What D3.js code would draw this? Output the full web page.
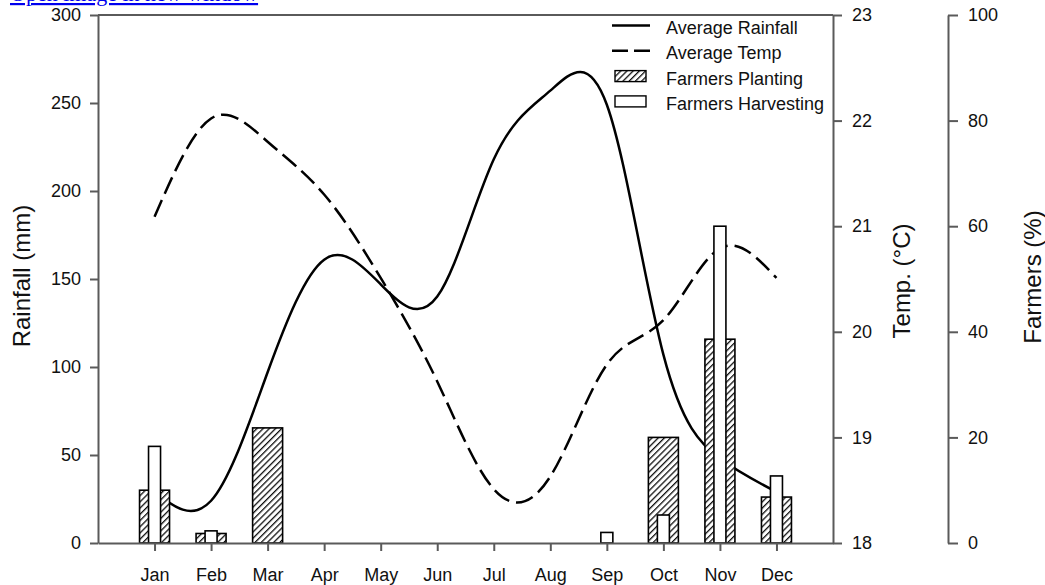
<!DOCTYPE html>
<html><head><meta charset="utf-8">
<script src="https://cdn.jsdelivr.net/npm/d3@7"></script>
<style>
body{margin:0;background:#fff;}
svg{display:block;}
text{font-family:"Liberation Sans",Arial,sans-serif;fill:#111;}
</style>
</head><body>
<svg id="chart" width="1045" height="585"></svg>
<script>
// ---- data ----
const months = ["Jan","Feb","Mar","Apr","May","Jun","Jul","Aug","Sep","Oct","Nov","Dec"];
const rainfall = [29, 24, 97, 161, 147, 140, 218, 257, 249, 107, 48, 29];          // mm
const temperature = [21.09, 22.02, 21.8, 21.3, 20.51, 19.53, 18.51, 18.63, 19.69, 20.11, 20.79, 20.51]; // °C
const planting = [10, 1.8, 21.8, 0, 0, 0, 0, 0, 0, 20, 38.6, 8.7];                  // % farmers
const harvesting = [18.3, 2.3, 0, 0, 0, 0, 0, 0, 2, 5.3, 60, 12.7];                 // % farmers
const rainTicks = [0, 50, 100, 150, 200, 250, 300];
const tempTicks = [18, 19, 20, 21, 22, 23];
const farmerTicks = [0, 20, 40, 60, 80, 100];
const legendLabels = ["Average Rainfall", "Average Temp", "Farmers Planting", "Farmers Harvesting"];
const axisTitles = ["Rainfall (mm)", "Temp. (°C)", "Farmers (%)"];
const linkText = "Open image in new window";

// ---- layout ----
const L = 98, R = 833, T = 15, B = 543, FX = 948;
const svg = d3.select("#chart");
const x = d3.scaleLinear().domain([0, 13]).range([L, R]);
const yRain = d3.scaleLinear().domain([0, 300]).range([B, T]);
const yTemp = d3.scaleLinear().domain([18, 23]).range([B, T]);
const yFarm = d3.scaleLinear().domain([0, 100]).range([B, T]);
const axisColor = "#5a5a5a";

// link text (clipped at top, as in the reference)
svg.append("text").attr("x", 10).attr("y", 1)
  .style("font-family", "'Liberation Serif','Times New Roman',serif")
  .style("font-size", "22px").style("fill", "#0000ee")
  .style("text-decoration", "underline").text(linkText);

// hatch pattern
const defs = svg.append("defs");
const pat = defs.append("pattern").attr("id", "hatch").attr("patternUnits", "userSpaceOnUse")
  .attr("width", 4.4).attr("height", 4.4).attr("patternTransform", "rotate(45)");
pat.append("rect").attr("width", 4.4).attr("height", 4.4).attr("fill", "#fff");
pat.append("line").attr("x1", 0).attr("y1", 0).attr("x2", 0).attr("y2", 4.4)
  .attr("stroke", "#111").attr("stroke-width", 2.6);

// ---- lines ----
const idx = d3.range(12);
const rainLine = d3.line().x(i => x(i + 1)).y(i => yRain(rainfall[i])).curve(d3.curveNatural);
const tempLine = d3.line().x(i => x(i + 1)).y(i => yTemp(temperature[i])).curve(d3.curveNatural);
svg.append("path").attr("d", rainLine(idx)).attr("fill", "none").attr("stroke", "#000").attr("stroke-width", 2.5);
svg.append("path").attr("d", tempLine(idx)).attr("fill", "none").attr("stroke", "#000").attr("stroke-width", 2.5)
  .attr("stroke-dasharray", "18,7");

// ---- bars ----
const PW = 30, HW = 12;
svg.append("g").selectAll("rect").data(idx.filter(i => planting[i] > 0)).join("rect")
  .attr("x", i => x(i + 1) - PW / 2).attr("width", PW)
  .attr("y", i => yFarm(planting[i])).attr("height", i => B - yFarm(planting[i]))
  .attr("fill", "url(#hatch)").attr("stroke", "#000").attr("stroke-width", 1.6);
svg.append("g").selectAll("rect").data(idx.filter(i => harvesting[i] > 0)).join("rect")
  .attr("x", i => x(i + 1) - HW / 2).attr("width", HW)
  .attr("y", i => yFarm(harvesting[i])).attr("height", i => B - yFarm(harvesting[i]))
  .attr("fill", "#fff").attr("stroke", "#000").attr("stroke-width", 1.6);

// ---- axes ----
function styleAxis(g) {
  g.selectAll(".domain").attr("stroke", axisColor).attr("stroke-width", 2);
  g.selectAll(".tick line").attr("stroke", axisColor).attr("stroke-width", 2);
  g.selectAll(".tick text").style("font-size", "18px").attr("fill", "#111")
   .style("font-family", "'Liberation Sans',Arial,sans-serif");
}
// top frame line
svg.append("line").attr("x1", L).attr("x2", R).attr("y1", T).attr("y2", T)
  .attr("stroke", axisColor).attr("stroke-width", 2);

svg.append("g").attr("transform", `translate(${L},0)`)
  .call(d3.axisLeft(yRain).tickValues(rainTicks).tickFormat(d3.format("d")).tickSize(8).tickSizeOuter(0).tickPadding(9))
  .call(styleAxis);
svg.append("g").attr("transform", `translate(0,${B})`)
  .call(d3.axisBottom(x).tickValues(d3.range(1, 13)).tickFormat(v => months[v - 1])
    .tickSize(8).tickSizeOuter(0).tickPadding(17))
  .call(styleAxis);
svg.append("g").attr("transform", `translate(${R},0)`)
  .call(d3.axisRight(yTemp).tickValues(tempTicks).tickFormat(d3.format("d")).tickSize(9).tickSizeOuter(0).tickPadding(10))
  .call(styleAxis);
svg.append("g").attr("transform", `translate(${FX},0)`)
  .call(d3.axisRight(yFarm).tickValues(farmerTicks).tickFormat(d3.format("d")).tickSize(10).tickSizeOuter(0).tickPadding(10))
  .call(styleAxis);

// axis titles
const titlePos = [[22, 276], [902, 281], [1033, 277]];
axisTitles.forEach((t, k) => {
  svg.append("text").attr("transform", `translate(${titlePos[k][0]},${titlePos[k][1]}) rotate(-90)`)
    .attr("text-anchor", "middle").attr("dy", "0.35em").style("font-size", "24px").text(t);
});

// ---- legend ----
const lg = svg.append("g");
legendLabels.forEach((lab, k) => {
  const base = 34 + 25.3 * k, cy = base - 8.5;
  if (k === 0) lg.append("line").attr("x1", 612).attr("x2", 650).attr("y1", cy).attr("y2", cy)
      .attr("stroke", "#000").attr("stroke-width", 2.5);
  if (k === 1) lg.append("line").attr("x1", 612).attr("x2", 650).attr("y1", cy).attr("y2", cy)
      .attr("stroke", "#000").attr("stroke-width", 2.5).attr("stroke-dasharray", "16,6");
  if (k === 2) lg.append("rect").attr("x", 615).attr("y", cy - 5.5).attr("width", 31).attr("height", 11)
      .attr("fill", "url(#hatch)").attr("stroke", "#000").attr("stroke-width", 1.4);
  if (k === 3) lg.append("rect").attr("x", 615).attr("y", cy - 5.5).attr("width", 31).attr("height", 11)
      .attr("fill", "#fff").attr("stroke", "#000").attr("stroke-width", 1.4);
  lg.append("text").attr("x", 666).attr("y", base).style("font-size", "18px").text(lab);
});
</script>
</body></html>
